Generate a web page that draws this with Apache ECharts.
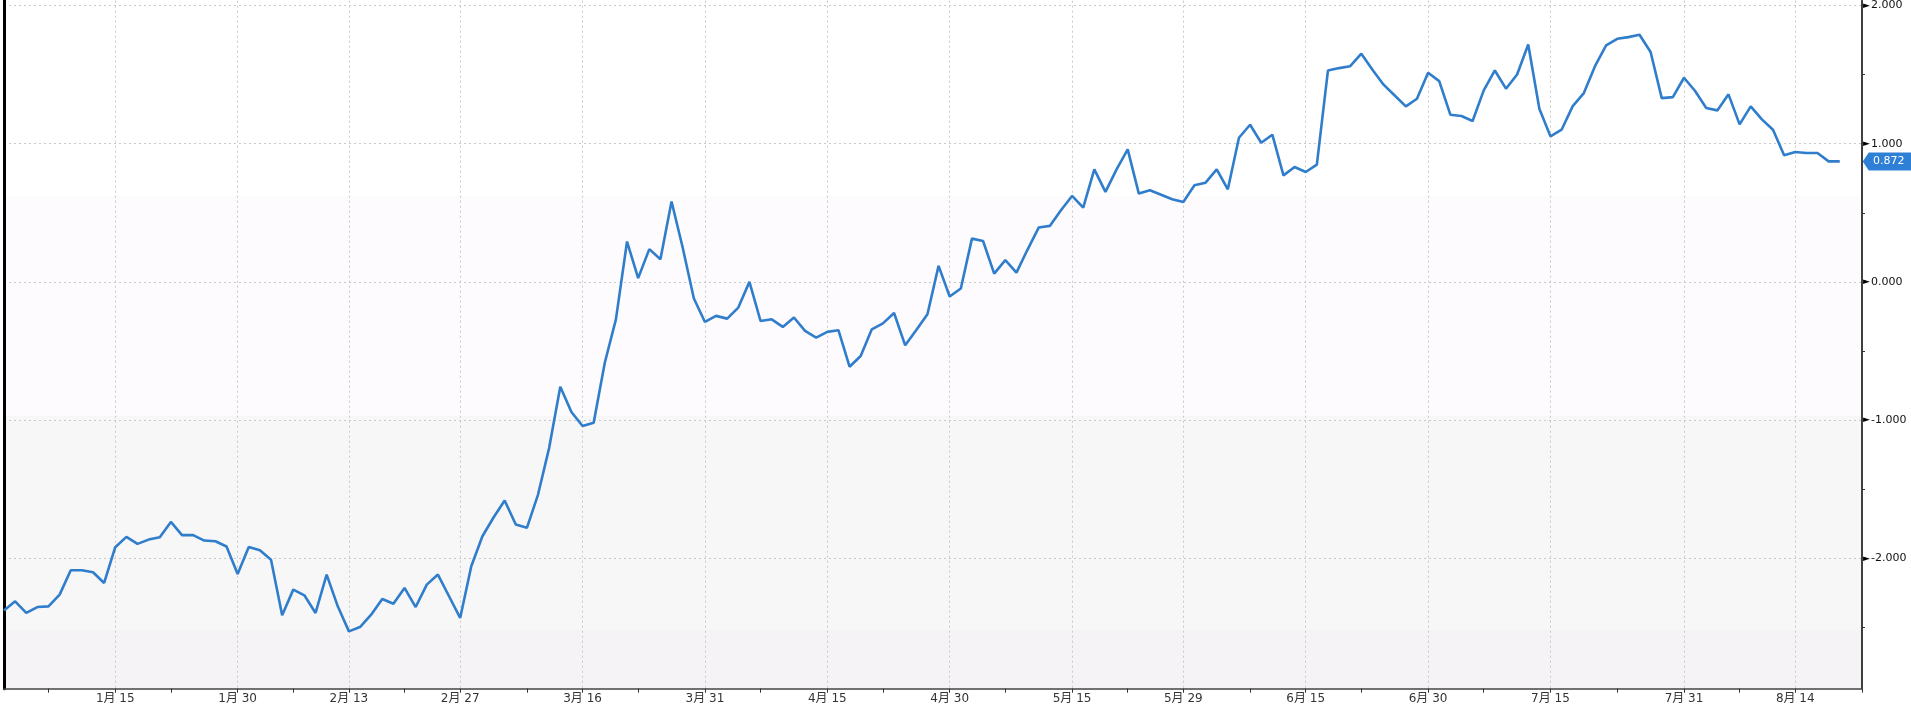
<!DOCTYPE html>
<html><head><meta charset="utf-8">
<script src="https://cdn.jsdelivr.net/npm/echarts@6/dist/echarts.min.js"></script>
<style>html,body{margin:0;padding:0;background:#fff}#c{width:1911px;height:707px}</style>
</head><body><div id="c"></div>
<script>
// calendar span (weekdays only)
const startDate = '2015-01-01';
const endDate = '2015-08-24';

// series values, one per weekday from 2015-01-01 to 2015-08-20
const values = [
 -2.379,-2.312,-2.396,-2.353,-2.348,-2.263,-2.087,-2.087,-2.101,-2.179,
 -1.920,-1.845,-1.896,-1.865,-1.848,-1.737,-1.833,-1.833,-1.872,-1.877,
 -1.915,-2.114,-1.918,-1.942,-2.010,-2.413,-2.227,-2.268,-2.396,-2.118,
 -2.348,-2.529,-2.498,-2.408,-2.295,-2.329,-2.215,-2.353,-2.191,-2.118,
 -2.275,-2.432,-2.058,-1.841,-1.705,-1.582,-1.756,-1.780,-1.539,-1.201,
 -0.759,-0.942,-1.043,-1.019,-0.585,-0.271,0.292,0.027,0.237,0.164,
 0.582,0.249,-0.118,-0.290,-0.246,-0.266,-0.186,0.000,-0.283,-0.271,
 -0.326,-0.258,-0.355,-0.403,-0.362,-0.350,-0.614,-0.536,-0.343,-0.300,
 -0.225,-0.459,-0.348,-0.234,0.116,-0.106,-0.048,0.313,0.296,0.060,
 0.157,0.067,0.234,0.393,0.405,0.518,0.622,0.537,0.814,0.651,
 0.814,0.959,0.639,0.663,0.631,0.598,0.578,0.699,0.718,0.814,
 0.670,1.043,1.137,1.007,1.065,0.771,0.831,0.795,0.848,1.530,
 1.547,1.561,1.651,1.535,1.427,1.349,1.270,1.325,1.513,1.453,
 1.210,1.200,1.164,1.386,1.530,1.398,1.501,1.718,1.253,1.053,
 1.101,1.272,1.366,1.561,1.711,1.759,1.771,1.788,1.663,1.330,
 1.337,1.477,1.381,1.258,1.241,1.357,1.140,1.270,1.176,1.101,
 0.916,0.940,0.933,0.933,0.872,0.872
];

// x-axis label dates and extra tick dates
const labelDates = ['2015-01-15','2015-01-30','2015-02-13','2015-02-27','2015-03-16','2015-03-31',
  '2015-04-15','2015-04-30','2015-05-15','2015-05-29','2015-06-15','2015-06-30','2015-07-15',
  '2015-07-31','2015-08-14'];
const minorTickDates = ['2015-01-07','2015-01-22','2015-02-06','2015-02-20','2015-03-09','2015-03-23',
  '2015-04-07','2015-04-22','2015-05-07','2015-05-22','2015-06-08','2015-06-22','2015-07-07',
  '2015-07-23','2015-08-07','2015-08-24'];

// y-axis
const yTicks = [-2, -1, 0, 1, 2];
const yMin = -2.944, yMax = 2.035;

// background bands (value edges) and colours
const bandEdges = [0.62, -0.97, -2.52];
const bandColors = ['#fdfbfd', '#f7f7f7', '#f6f3f6'];

function weekdays(s, e) {
  const out = [];
  const d = new Date(s + 'T00:00:00Z');
  const end = new Date(e + 'T00:00:00Z');
  while (d <= end) {
    const w = d.getUTCDay();
    if (w !== 0 && w !== 6) out.push(d.toISOString().slice(0, 10));
    d.setUTCDate(d.getUTCDate() + 1);
  }
  return out;
}
const categories = weekdays(startDate, endDate);
const labelSet = new Set(labelDates);
const tickSet = new Set(labelDates.concat(minorTickDates));
const lastIndex = values.length - 1;
const lastValue = values[lastIndex];

const BLUE_LINE = '#2f7dcb';
const BLUE_BADGE = '#2e80d6';
const gridDash = { color: '#c9c9c9', width: 1, type: [2, 3] };

const chart = echarts.init(document.getElementById('c'), null, { renderer: 'canvas' });
chart.setOption({
  animation: false,
  backgroundColor: '#ffffff',
  grid: { left: 4, right: 49, top: 0, bottom: 18.3, containLabel: false },
  xAxis: {
    type: 'category',
    data: categories,
    boundaryGap: false,
    z: 2,
    axisLine: { show: true, onZero: false, lineStyle: { color: '#444', width: 1.5 } },
    axisTick: { show: true, length: 4, interval: (i, v) => tickSet.has(v), lineStyle: { color: '#333', width: 1 } },
    axisLabel: {
      show: true, interval: (i, v) => labelSet.has(v), margin: 4,
      fontFamily: 'DejaVu Sans, Noto Sans CJK SC', fontSize: 12, color: '#333',
      formatter: v => { const p = v.split('-'); return (+p[1]) + '月 ' + (+p[2]); }
    },
    splitLine: { show: true, interval: (i, v) => labelSet.has(v), lineStyle: gridDash }
  },
  yAxis: [{
    type: 'value', position: 'right', min: yMin, max: yMax, splitNumber: 5, z: 2,
    axisLine: { show: true, onZero: false, lineStyle: { color: '#000', width: 1.5 } },
    axisTick: { show: false },
    minorTick: { show: true, splitNumber: 2, length: 3, lineStyle: { color: '#333', width: 1 } },
    splitLine: { show: false },
    axisLabel: {
      show: true, margin: 1, showMinLabel: false, showMaxLabel: false,
      formatter: v => '{t|►}{v|' + v.toFixed(3) + '}',
      rich: {
        t: { fontSize: 9, color: '#000', fontFamily: 'DejaVu Sans' },
        v: { fontSize: 11, color: '#111', fontFamily: 'DejaVu Sans', padding: [0, 0, 0, 1] }
      }
    }
  }, {
    type: 'value', position: 'left', min: yMin, max: yMax, z: 2,
    axisLine: { show: true, onZero: false, lineStyle: { color: '#000', width: 3 } },
    axisTick: { show: false }, axisLabel: { show: false }, splitLine: { show: false }
  }],
  series: [{
    type: 'line',
    data: values,
    yAxisIndex: 0,
    clip: false,
    symbol: 'none',
    z: 3,
    lineStyle: { color: BLUE_LINE, width: 2.6 },
    itemStyle: { color: BLUE_LINE },
    markArea: {
      silent: true, z: 1,
      data: [
        [{ yAxis: bandEdges[0], itemStyle: { color: bandColors[0] } }, { yAxis: bandEdges[1] }],
        [{ yAxis: bandEdges[1], itemStyle: { color: bandColors[1] } }, { yAxis: bandEdges[2] }],
        [{ yAxis: bandEdges[2], itemStyle: { color: bandColors[2] } }, { yAxis: yMin }]
      ]
    },
    markLine: {
      silent: true, symbol: 'none', z: 2, precision: 3,
      data: yTicks.map(v => ({ yAxis: v, lineStyle: gridDash, label: { show: false } })).concat([{
        yAxis: lastValue,
        lineStyle: { opacity: 0 },
        label: {
          show: true, position: 'start', distance: 4,
          formatter: () => lastValue.toFixed(3),
          backgroundColor: BLUE_BADGE, color: '#fff', fontSize: 11, padding: [3, 4]
        }
      }])
    },
    markPoint: {
      silent: true,
      symbol: 'path://M0,9 L6,0 L50,0 L50,18 L6,18 Z',
      symbolSize: [50, 18],
      symbolKeepAspect: false,
      data: [{
        coord: [lastIndex, lastValue],
        symbolOffset: [48, 0],
        itemStyle: { color: BLUE_BADGE },
        label: {
          show: true, position: 'inside', offset: [1, 0],
          formatter: () => lastValue.toFixed(3),
          color: '#fff', fontSize: 11, fontFamily: 'DejaVu Sans'
        }
      }]
    }
  }]
});
</script>
</body></html>
